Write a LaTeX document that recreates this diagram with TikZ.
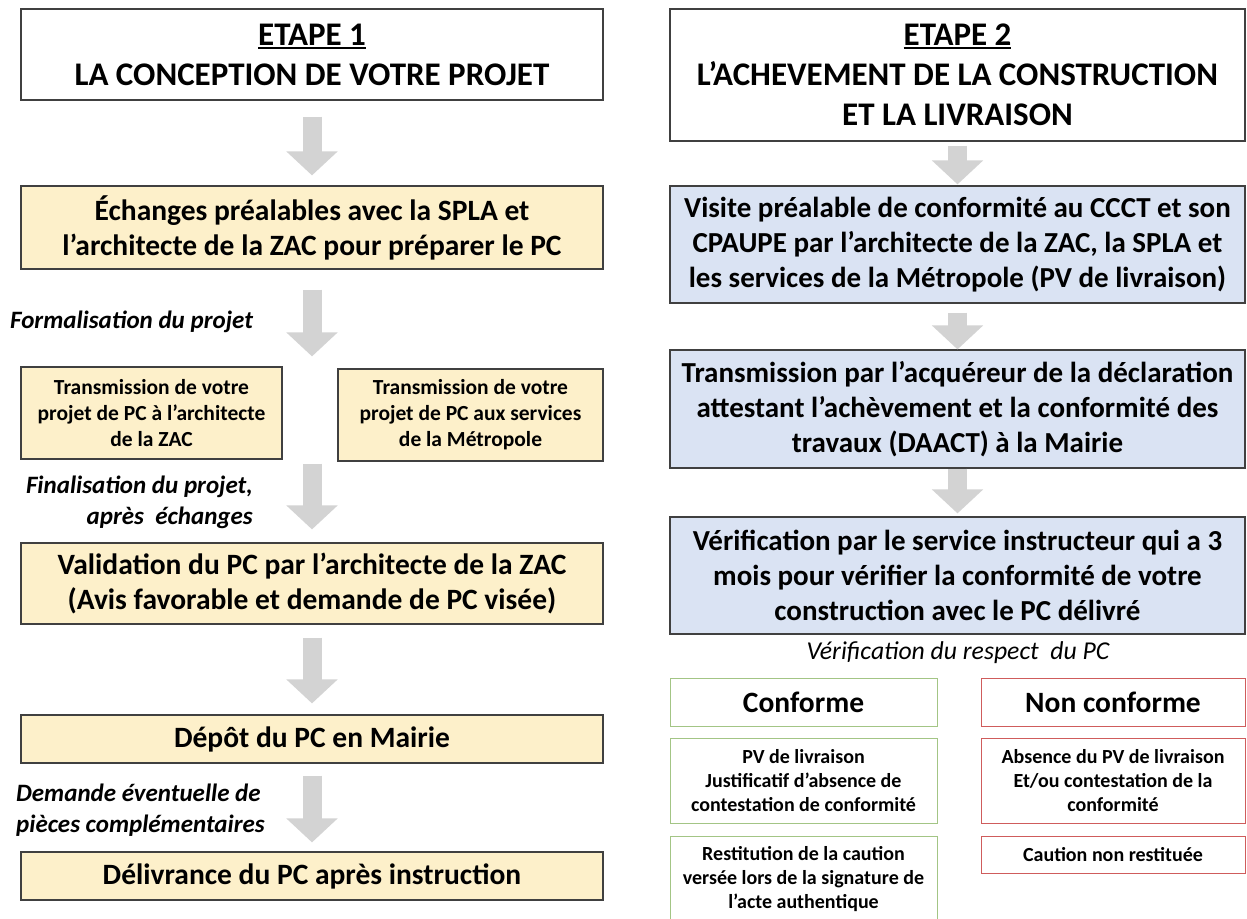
\documentclass[tikz,border=0pt]{standalone}
\usepackage{fontspec}
\setmainfont{Carlito}
\usetikzlibrary{arrows.meta}
\newcommand{\etapeul}[1]{\setbox0\hbox{#1}\rlap{\rule[-3.5pt]{\wd0}{1.8pt}}\box0}
\definecolor{boxline}{HTML}{404040}
\definecolor{yellowfill}{HTML}{FDF0CA}
\definecolor{bluefill}{HTML}{DAE3F3}
\definecolor{greenline}{HTML}{A3C585}
\definecolor{redline}{HTML}{CF5C5C}
\definecolor{arrowgray}{HTML}{D3D3D3}
\tikzset{
    mybox/.style = {rectangle, draw=boxline, line width=1.2pt, align=center, inner sep=0pt, font=\fontsize{29.5}{35}\selectfont\bfseries},
    myboxw/.style = {mybox, fill=white, font=\fontsize{33}{40}\selectfont\bfseries},
    myboxy/.style = {mybox, fill=yellowfill},
    myboxys/.style = {myboxy, font=\fontsize{21.5}{26}\selectfont\bfseries},
    myboxb/.style = {mybox, fill=bluefill, font=\fontsize{29}{35}\selectfont\bfseries},
    myboxg/.style = {mybox, draw=greenline, line width=1pt, font=\fontsize{20}{24}\selectfont\bfseries},
    myboxr/.style = {myboxg, draw=redline},
    mynote/.style = {inner sep=0pt, font=\fontsize{25}{31}\selectfont\bfseries\itshape},
    edgeg/.style = {draw=arrowgray, line width=19pt, -{Triangle[width=50pt,length=24pt]}}, % block arrow
}

\begin{document}
\begin{tikzpicture}[x=1pt,y=-1pt]
\useasboundingbox (0,0) rectangle (1247,918);
%
% etape 1
\node[myboxw, minimum width=582pt, minimum height=91pt] at (312, 54.5) (e1) {\etapeul{ETAPE 1}\\LA CONCEPTION DE VOTRE PROJET};
\node[myboxy, minimum width=582pt, minimum height=83pt] at (312, 227.5) (ech) {Échanges préalables avec la SPLA et\\l’architecte de la ZAC pour préparer le PC};
\node[myboxys, minimum width=261pt, minimum height=92pt] at (151.5, 413) (trl) {Transmission de votre\\projet de PC à l’architecte\\de la ZAC};
\node[myboxys, minimum width=265pt, minimum height=92pt] at (470.5, 415) (trr) {Transmission de votre\\projet de PC aux services\\de la Métropole};
\node[myboxy, minimum width=582pt, minimum height=81pt] at (312, 583.5) (val) {Validation du PC par l’architecte de la ZAC\\(Avis favorable et demande de PC visée)};
\node[myboxy, minimum width=582pt, minimum height=48pt] at (312, 739) (dep) {Dépôt du PC en Mairie};
\node[myboxy, minimum width=582pt, minimum height=48pt] at (312, 876) (del) {Délivrance du PC après instruction};
%
\node[mynote, anchor=west] at (10, 322) (formal) {Formalisation du projet};
\node[mynote, anchor=east, align=right] at (253, 502.5) (final) {Finalisation du projet,\\après\ \ échanges};
\node[mynote, anchor=west, align=left] at (16, 810) (dem) {Demande éventuelle de\\pièces complémentaires};
%
\draw[edgeg, shorten <=16pt, shorten >=10pt] (e1) -- (ech);
\draw[edgeg, shorten <=20pt, shorten >=10pt] (ech.south) -- (ech.south |- trl.north);
\draw[edgeg, shorten <=4pt, shorten >=13pt] (ech.south |- trl.south) -- (val.north);
\draw[edgeg, shorten <=13pt, shorten >=11pt] (val) -- (dep);
\draw[edgeg, shorten <=12pt, shorten >=9pt] (dep) -- (del);
%
% etape 2
\node[myboxw, minimum width=575pt, minimum height=132pt] at (957.5, 75) (e2) {\etapeul{ETAPE 2}\\L’ACHEVEMENT DE LA CONSTRUCTION\\ET LA LIVRAISON};
\node[myboxb, minimum width=575pt, minimum height=117pt] at (957.5, 244.5) (vis) {Visite préalable de conformité au CCCT et son\\CPAUPE par l’architecte de la ZAC, la SPLA et\\les services de la Métropole (PV de livraison)};
\node[myboxb, minimum width=575pt, minimum height=118pt] at (957.5, 409) (tra) {Transmission par l’acquéreur de la déclaration\\attestant l’achèvement et la conformité des\\travaux (DAACT) à la Mairie};
\node[myboxb, minimum width=575pt, minimum height=117pt] at (957.5, 575.5) (ver) {Vérification par le service instructeur qui a 3\\mois pour vérifier la conformité de votre\\construction avec le PC délivré};
\node[inner sep=0pt, font=\fontsize{25.7}{30}\selectfont\itshape] at (958, 653) (resp) {Vérification du respect\ \ du PC};
%
\node[myboxg, minimum width=267pt, minimum height=48pt, font=\fontsize{29.5}{34}\selectfont\bfseries] at (803.5, 702) (conf) {Conforme};
\node[myboxr, minimum width=264pt, minimum height=48pt, font=\fontsize{29.5}{34}\selectfont\bfseries] at (1113, 702) (nconf) {Non conforme};
\node[myboxg, minimum width=267pt, minimum height=85pt] at (803.5, 780.5) (pv) {PV de livraison\\Justificatif\ d’absence de\\contestation de conformité};
\node[myboxr, minimum width=264pt, minimum height=85pt] at (1113, 780.5) (abs) {Absence du PV de livraison\\Et/ou contestation de la\\conformité};
\node[myboxg, minimum width=267pt, minimum height=86pt] at (803.5, 879) (rest) {Restitution\ de la caution\\versée lors de la signature de\\l’acte authentique};
\node[myboxr, minimum width=264pt, minimum height=37pt] at (1113, 854.5) (caut) {Caution non restituée};
%
\draw[edgeg, shorten <=4pt, shorten >=1pt] (e2) -- (vis);
\draw[edgeg, shorten <=9pt, shorten >=0pt] (vis) -- (tra);
\draw[edgeg, shorten <=0pt, shorten >=3pt] (tra) -- (ver);

\end{tikzpicture}
\end{document}
